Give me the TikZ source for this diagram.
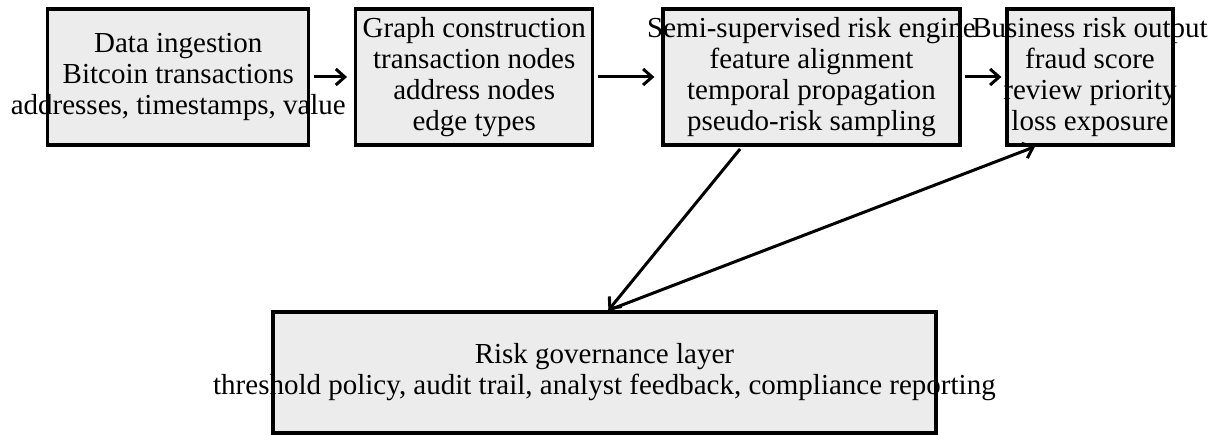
\documentclass[tikz,border=0pt]{standalone}
\usepackage{fontspec}
\setmainfont{Liberation Serif}
\usepackage{tikz}
\usetikzlibrary{arrows.meta}
\usetikzlibrary{positioning}
\definecolor{boxgray}{HTML}{ECECEC}
\tikzset{
  x = 1pt,
  y = 1pt,
  >={Straight Barb[length=9pt, width=16pt]},
  stage/.style = {draw, line width=3.3pt, fill=boxgray, inner sep=0pt},
  caption/.style = {align=center, inner sep=0pt,
    font=\fontsize{29}{31}\selectfont},
  flow/.style = {->, line width=3pt},
}

\begin{document}
\begin{tikzpicture}
    \useasboundingbox (0,0) rectangle (1221,435);
    \node [stage, minimum width=261pt, minimum height=136pt] (ingest) at (178.3,358) {};
    \node [stage, minimum width=237pt, minimum height=136pt] (graph) at (474.2,358) {};
    \node [stage, minimum width=297pt, minimum height=136pt] (engine) at (811.5,358) {};
    \node [stage, minimum width=166pt, minimum height=136pt] (output) at (1090,358) {};
    \node [stage, minimum width=663pt, minimum height=121pt] (govern) at (604.4,62.6) {};
    \node [caption] (ingest-text) at (ingest) {Data ingestion\\Bitcoin transactions\\addresses, timestamps, value};
    \node [caption] (graph-text) at (graph) {Graph construction\\transaction nodes\\address nodes\\edge types};
    \node [caption] (engine-text) at (engine) {Semi-supervised risk engine\\feature alignment\\temporal propagation\\pseudo-risk sampling};
    \node [caption] (output-text) at (output) {Business risk output\\fraud score\\review priority\\loss exposure};
    \node [caption] (govern-text) at (govern) {Risk governance layer\\threshold policy, audit trail, analyst feedback, compliance reporting};
    \draw [flow, shorten <=3.5pt, shorten >=7pt] (ingest) -- (graph);
    \draw [flow, shorten <=4pt, shorten >=7pt] (graph) -- (engine);
    \draw [flow, shorten <=3pt, shorten >=4pt] (engine) -- (output);
    \draw [flow, shorten <=3pt] ([xshift=-69.5pt]engine.south) -- ([xshift=4pt]govern.north);
    \draw [flow] ([xshift=4pt]govern.north) -- ([xshift=-55pt]output.south);
  \end{tikzpicture}
\end{document}
